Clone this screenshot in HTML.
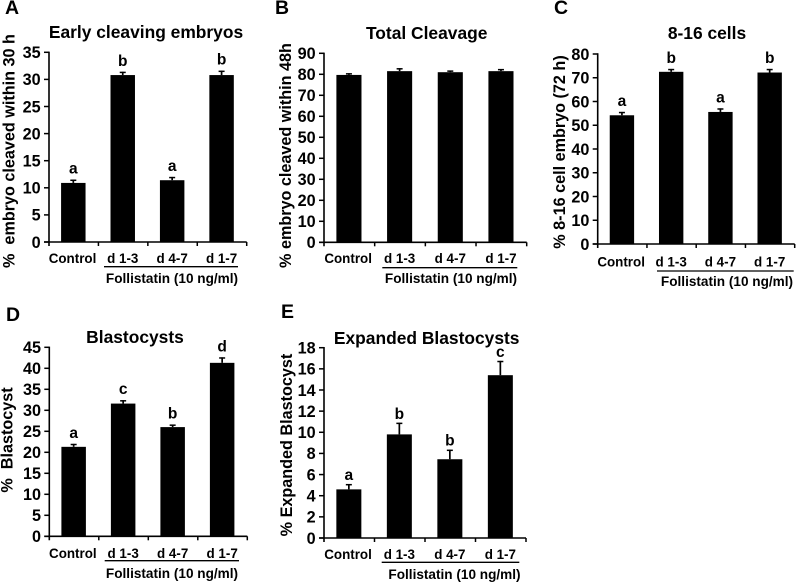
<!DOCTYPE html>
<html lang="en">
<head>
<meta charset="utf-8">
<title>Follistatin embryo development charts</title>
<style>
html,body{margin:0;padding:0;background:#fff;}
#figure{display:block;width:796px;height:582px;font-family:"Liberation Sans",Arial,sans-serif;font-weight:bold;fill:#000;filter:blur(0.3px);}
</style>
</head>
<body>
<svg id="figure" xmlns="http://www.w3.org/2000/svg" width="796" height="582" viewBox="0 0 796 582"></svg>
<script>
const categories = ["Control", "d 1-3", "d 4-7", "d 1-7"];
const groupLabel = "Follistatin (10 ng/ml)";

const aValues = [10.9, 30.8, 11.4, 30.8];
const aErrors = [0.6, 0.6, 0.6, 0.8];
const aLetters = ["a", "b", "a", "b"];
const aTicks = [0, 5, 10, 15, 20, 25, 30, 35];

const bValues = [79.7, 81.5, 81, 81.5];
const bErrors = [0.8, 1.4, 0.8, 1.0];
const bLetters = ["", "", "", ""];
const bTicks = [0, 10, 20, 30, 40, 50, 60, 70, 80, 90];

const cValues = [54.2, 72.5, 55.6, 72.2];
const cErrors = [1.4, 1.2, 1.5, 1.5];
const cLetters = ["a", "b", "a", "b"];
const cTicks = [0, 10, 20, 30, 40, 50, 60, 70, 80];

const dValues = [21.3, 31.6, 26, 41.3];
const dErrors = [0.7, 0.8, 0.6, 1.3];
const dLetters = ["a", "c", "b", "d"];
const dTicks = [0, 5, 10, 15, 20, 25, 30, 35, 40, 45];

const eValues = [4.6, 9.8, 7.45, 15.4];
const eErrors = [0.5, 1.1, 0.9, 1.35];
const eLetters = ["a", "b", "b", "c"];
const eTicks = [0, 2, 4, 6, 8, 10, 12, 14, 16, 18];

const panels = [
  {id:"a", letter:"A", lx:5, ly:14, title:"Early cleaving embryos", tx:146, ty:38, ylabel:"%  embryo cleaved within 30 h", yx:14.5, yy:151,
   left:49, right:246.7, base:242, top:52.3, catY:263, lineY:266.7, lineA:104, lineB:238, groupX:172, groupY:283, gap:6,
   values:aValues, errors:aErrors, letters:aLetters, ticks:aTicks},
  {id:"b", letter:"B", lx:275, ly:14, title:"Total Cleavage", tx:426.7, ty:39, ylabel:"% embryo cleaved within 48h", yx:291, yy:155.5,
   left:324, right:526.7, base:242.3, top:53.3, catY:263, lineY:267.7, lineA:382.3, lineB:517.3, groupX:451, groupY:283, gap:6,
   values:bValues, errors:bErrors, letters:bLetters, ticks:bTicks},
  {id:"c", letter:"C", lx:554, ly:14, title:"8-16 cells", tx:707, ty:39, ylabel:"% 8-16 cell embryo (72 h)", yx:565, yy:152,
   left:597.7, right:794.7, base:244, top:54, catY:266.7, lineY:271, lineA:657, lineB:793.7, groupX:727, groupY:286, gap:6,
   values:cValues, errors:cErrors, letters:cLetters, ticks:cTicks},
  {id:"d", letter:"D", lx:6, ly:321, title:"Blastocysts", tx:135, ty:343, ylabel:"%  Blastocyst", yx:12.7, yy:440,
   left:49.3, right:247.3, base:536.3, top:347.3, catY:558, lineY:560.7, lineA:104.7, lineB:239, groupX:172, groupY:578, gap:6,
   values:dValues, errors:dErrors, letters:dLetters, ticks:dTicks},
  {id:"e", letter:"E", lx:281, ly:318, title:"Expanded Blastocysts", tx:426.7, ty:344, ylabel:"% Expanded Blastocyst", yx:292, yy:445,
   left:324, right:526, base:538, top:347.7, catY:559, lineY:562.3, lineA:381.7, lineB:519.3, groupX:454.5, groupY:579, gap:4,
   values:eValues, errors:eErrors, letters:eLetters, ticks:eTicks}
];

const svgNS = "http://www.w3.org/2000/svg";
const root = document.getElementById("figure");

function mk(parent, tag, name, attrs, text) {
  const el = document.createElementNS(svgNS, tag);
  
  
  for (const k in attrs) el.setAttribute(k, attrs[k]);
  if (text !== undefined) el.textContent = text;
  parent.appendChild(el);
  return el;
}

function line(parent, name, x1, y1, x2, y2, w) {
  return mk(parent, "line", name, {x1:x1, y1:y1, x2:x2, y2:y2, stroke:"#000", "stroke-width":w});
}

panels.forEach(function (p) {
  const g = mk(root, "g", "panel-" + p.id, {});
  const maxTick = p.ticks[p.ticks.length - 1];
  const yScale = function (v) { return p.base + (p.top - p.base) * v / maxTick; };
  const band = (p.right - p.left) / categories.length;
  const xCenter = function (i) { return p.left + band * (i + 0.5) - 0.4; };
  const barW = band * 0.495;

  mk(g, "text", "panel-letter", {x:p.lx, y:p.ly, "font-size":19.5}, p.letter);
  mk(g, "text", "chart-title", {x:p.tx, y:p.ty, "font-size":17.4, "text-anchor":"middle"}, p.title);
  mk(g, "text", "y-axis-title", {x:0, y:0, "font-size":16.2, "text-anchor":"middle", "xml:space":"preserve", style:"white-space:pre",
    transform:"translate(" + p.yx + "," + p.yy + ") rotate(-90)"}, p.ylabel);

  p.values.forEach(function (v, i) {
    const top = yScale(v);
    mk(g, "rect", "bar-" + categories[i].toLowerCase().replace(/\s+/g, ""), {x:xCenter(i) - barW / 2, y:top, width:barW, height:p.base - top, fill:"#000"});
    const errTop = yScale(v + p.errors[i]);
    line(g, "error-bar", xCenter(i), top, xCenter(i), errTop, 1.7);
    line(g, "error-cap", xCenter(i) - 3, errTop + 0.6, xCenter(i) + 3, errTop + 0.6, 1.5);
    if (p.letters[i]) {
      mk(g, "text", "significance-letter", {x:xCenter(i), y:errTop - p.gap, "font-size":15.5, "text-anchor":"middle"}, p.letters[i]);
    }
    mk(g, "text", "category-label", {x:xCenter(i) + (i === 0 ? -0.8 : 0), y:p.catY, "font-size":13.4, "text-anchor":"middle"}, categories[i]);
  });

  line(g, "y-axis", p.left, p.top - 0.7, p.left, p.base + 4, 1.6);
  line(g, "x-axis", p.left - 5, p.base, p.right, p.base, 1.6);

  p.ticks.forEach(function (t) {
    const y = yScale(t);
    line(g, "y-tick", p.left - 5, y, p.left, y, 1.5);
    mk(g, "text", "y-tick-label", {x:p.left - 8.3, y:y + 5.8, "font-size":16.2, "text-anchor":"end"}, t);
  });
  for (let i = 1; i <= categories.length; i++) {
    const x = p.left + band * i;
    line(g, "x-tick", x, p.base, x, p.base + 4, 1.5);
  }

  line(g, "group-underline", p.lineA, p.lineY, p.lineB, p.lineY, 1.3);
  mk(g, "text", "group-label", {x:p.groupX, y:p.groupY, "font-size":13.6, "text-anchor":"middle"}, groupLabel);
});
</script>
</body>
</html>
